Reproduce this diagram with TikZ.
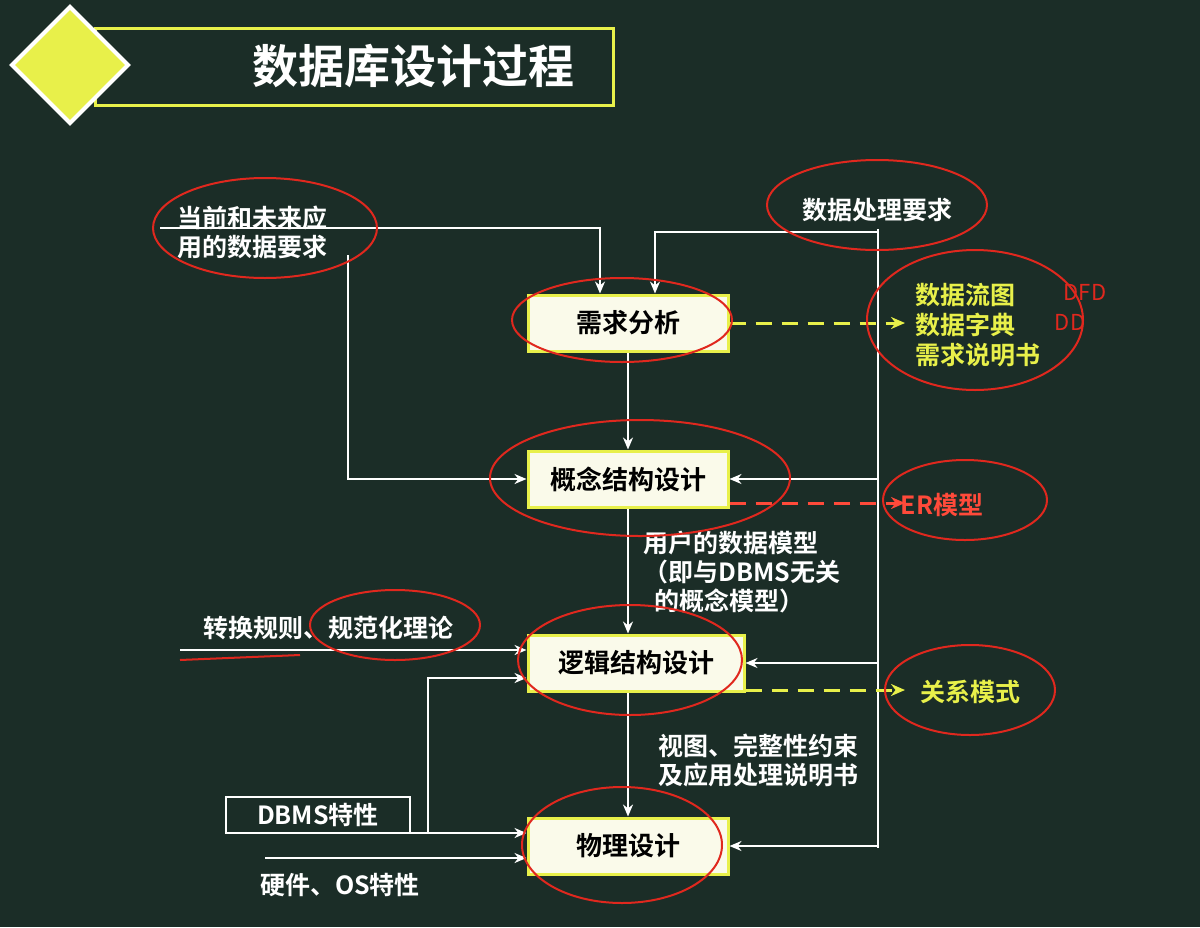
\documentclass[tikz,border=0pt]{standalone}
\usepackage{fontspec}
\setmainfont{Noto Sans CJK SC}[BoldFont={* Bold}]
\usetikzlibrary{arrows.meta}
\definecolor{bg}{HTML}{1B2D27}
\definecolor{ylw}{HTML}{E8F04A}
\definecolor{boxfill}{HTML}{FAFAEA}
\definecolor{ann}{HTML}{E0281E}
\definecolor{er}{HTML}{FF4A3A}
\begin{document}
\begin{tikzpicture}[x=0.5pt,y=-0.5pt,
  stepbox/.style={draw=ylw,line width=1.5pt,fill=boxfill,minimum width=100pt,minimum height=28pt,font=\bfseries\fontsize{13}{15}\selectfont,text=black},
  lbl/.style={text=white,font=\bfseries\fontsize{12.5}{14.5}\selectfont,align=left},
  wire/.style={white,line width=1.2pt},
  arr/.style={wire,-{Stealth[length=6pt,width=5pt]}},
  dasharr/.style={line width=1.5pt,dash pattern=on 8pt off 5pt,-{Stealth[length=7pt,width=6pt]}},
  circ/.style={ann,line width=1pt}]
\fill[bg] (0,0) rectangle (1200,927);
\useasboundingbox (0,0) rectangle (1200,927);
% title
\draw[ylw,line width=1.5pt] (95,28) rectangle (613,105);
\node[text=white,font=\bfseries\fontsize{23}{26}\selectfont] (title) at (413,66) {数据库设计过程};
\draw[white,line width=2pt,fill=ylw] (70,7) -- (128,65) -- (70,123) -- (12,65) -- cycle;
% boxes
\node[stepbox,minimum width=100pt] (r) at (628,323) {需求分析};
\node[stepbox,minimum width=100pt] (c) at (628,479) {概念结构设计};
\node[stepbox,minimum width=108pt] (l) at (636,663) {逻辑结构设计};
\node[stepbox,minimum width=100pt] (p) at (628,846) {物理设计};
% labels
\node[lbl] (cur) at (252,232) {当前和未来应\\用的数据要求};
\node[lbl] (dp) at (877,210) {数据处理要求};
\node[text=ylw,font=\bfseries\fontsize{12.5}{15}\selectfont,align=left] (out1) at (978,325) {数据流图\\数据字典\\需求说明书};
\node[text=er,font=\bfseries\fontsize{12.5}{14}\selectfont] (er) at (942,505) {ER模型};
\node[lbl] (um) at (742,572) {用户的数据模型\\（即与DBMS无关\\\ \ 的概念模型）};
\node[lbl] (tr) at (328,628) {转换规则、规范化理论};
\node[text=ylw,font=\bfseries\fontsize{12.5}{14}\selectfont] (rel) at (970,692) {关系模式};
\node[lbl] (vw) at (758,760) {视图、完整性约束\\及应用处理说明书};
\node[lbl,draw=white,line width=1pt,minimum width=92pt,minimum height=17pt,align=center] (dbms) at (318,815) {DBMS特性};
\node[lbl] (hw) at (340,885) {硬件、OS特性};
% wires
\coordinate (a1) at (160,228);
\draw[arr] (a1) -- (600,228) -- (r.north -| 600,0);
\draw[arr] (348,255) -- (348,479) -- (c.west);
\draw[wire] (dp.south -| 878,0) -- (878,848);
\draw[arr] (878,232) -- (655,232) -- (r.north -| 655,0);
\draw[arr] (878,479) -- (c.east);
\draw[arr] (878,663) -- (l.east);
\draw[arr] (878,846) -- (p.east);
\draw[arr] (r.south) -- (c.north);
\draw[arr] (c.south) -- (c.south |- l.north);
\draw[arr] (l.south -| 628,0) -- (p.north);
\draw[arr] (180,650) -- (l.west |- 0,650);
\draw[arr] (428,833) -- (428,678) -- (l.west |- 0,678);
\draw[arr] (dbms.east |- 0,833) -- (p.west |- 0,833);
\draw[arr] (265,858) -- (p.west |- 0,858);
% dashed outputs
\draw[dasharr,ylw] (r.east) -- (905,323);
\draw[dasharr,er] (c.east |- 0,503) -- (905,503);
\draw[dasharr,ylw] (l.east |- 0,690) -- (905,690);
% annotations
\draw[circ] (265,228) ellipse (112 and 50);
\draw[circ] (877,205) ellipse (110 and 45);
\draw[circ] (622,320) ellipse (110 and 42);
\draw[circ] (975,320) ellipse (108 and 70);
\draw[circ] (640,478) ellipse (150 and 58);
\draw[circ] (965,500) ellipse (82 and 40);
\draw[circ] (395,625) ellipse (85 and 35);
\draw[circ] (180,660) -- (300,655);
\draw[circ] (630,660) ellipse (112 and 55);
\draw[circ] (970,690) ellipse (85 and 45);
\draw[circ] (622,845) ellipse (100 and 58);
\node[text=ann,font=\fontsize{11}{12}\selectfont] (dfd) at (1085,292) {DFD};
\node[text=ann,font=\fontsize{11}{12}\selectfont] (dd) at (1070,322) {DD};
\end{tikzpicture}
\end{document}
